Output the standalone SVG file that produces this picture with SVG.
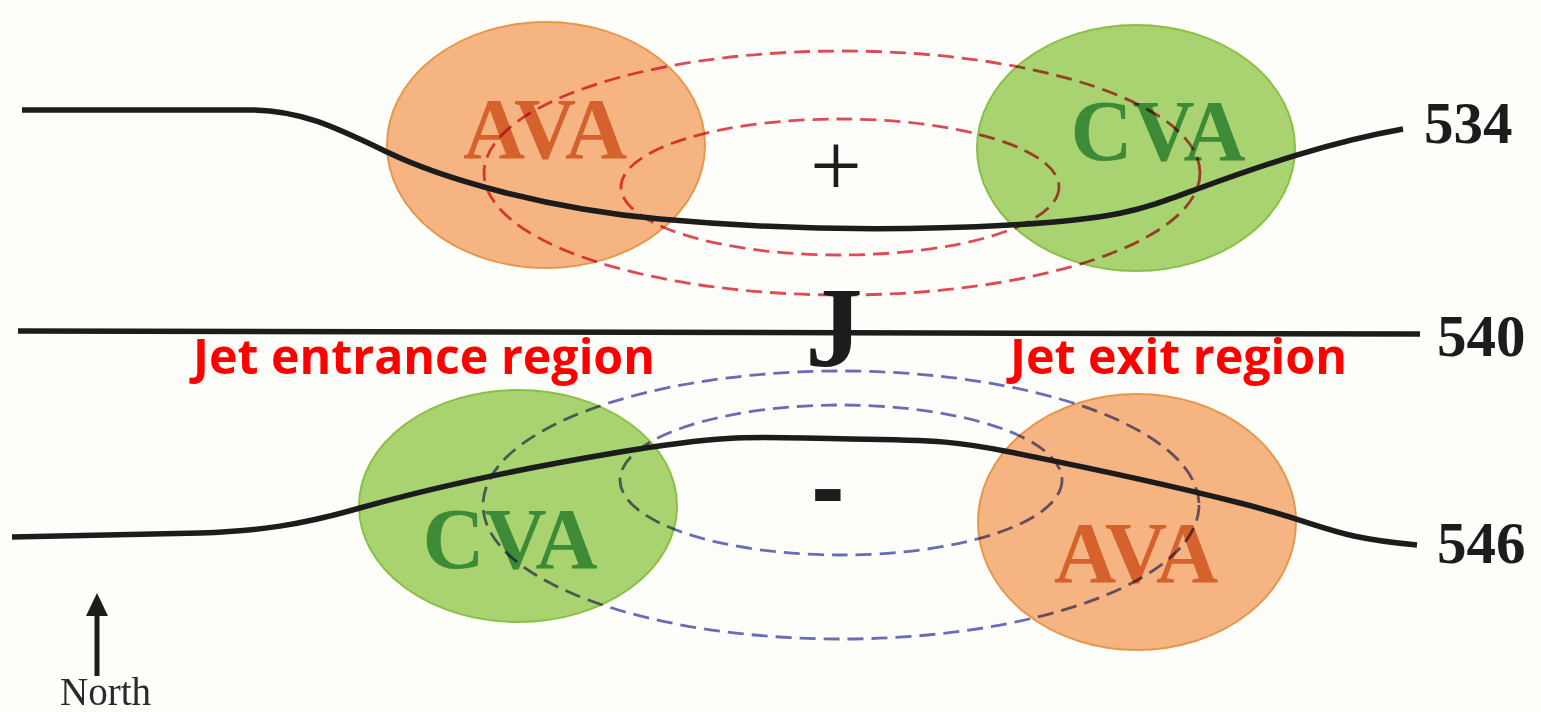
<svg xmlns="http://www.w3.org/2000/svg" width="1541" height="712" viewBox="0 0 1541 712">
  <defs>
    <style>
      .ava { fill: #F5B482; stroke: #E5984C; stroke-width: 2; }
      .cva { fill: #A9D270; stroke: #8BBE44; stroke-width: 2; }
      .avaT { fill: #D5612C; font-family: "Liberation Serif", serif; font-weight: bold; font-size: 86px; text-anchor: middle; }
      .cvaT { fill: #3E8B37; font-family: "Liberation Serif", serif; font-weight: bold; font-size: 86px; text-anchor: middle; }
      .contour { fill: none; stroke: #1C1C1C; stroke-width: 5.5; stroke-linecap: butt; }
      .dashR { fill: none; stroke: #DF4C57; stroke-width: 2.8; stroke-dasharray: 16 8; mix-blend-mode: multiply; }
      .dashB { fill: none; stroke: #6A6DBA; stroke-width: 2.8; stroke-dasharray: 16 8; mix-blend-mode: multiply; }
      .num { fill: #1C1C1C; font-family: "Liberation Serif", serif; font-weight: bold; font-size: 59px; }
      .region { fill: #FF0000; font-family: "Open Sans", "Liberation Sans", sans-serif; font-weight: bold; font-size: 49px; }
    </style>
  </defs>
  <rect x="0" y="0" width="1541" height="712" fill="#FDFDFA"/>

  <g id="ava-top">
    <ellipse class="ava" cx="546" cy="145" rx="159" ry="123"/>
    <text class="avaT" x="545" y="158">AVA</text>
  </g>
  <g id="cva-top">
    <ellipse class="cva" cx="1136" cy="148" rx="159" ry="123"/>
    <text class="cvaT" x="1158" y="160">CVA</text>
  </g>
  <g id="cva-bottom">
    <ellipse class="cva" cx="518" cy="506" rx="159" ry="116"/>
    <text class="cvaT" x="510" y="568">CVA</text>
  </g>
  <g id="ava-bottom">
    <ellipse class="ava" cx="1137" cy="522" rx="159" ry="128"/>
    <text class="avaT" x="1136" y="582">AVA</text>
  </g>

  <g id="divergence-top">
    <ellipse class="dashR" cx="842" cy="173" rx="358" ry="122"/>
    <ellipse class="dashR" cx="840" cy="187" rx="219" ry="68"/>
    <text x="836" y="196" fill="#1C1C1C" font-family="Liberation Serif, serif" font-size="92" text-anchor="middle">+</text>
  </g>
  <g id="convergence-bottom">
    <ellipse class="dashB" cx="841" cy="505" rx="358" ry="134"/>
    <ellipse class="dashB" cx="841" cy="480" rx="221" ry="75"/>
    <text x="828" y="521" fill="#1C1C1C" font-family="Liberation Sans, sans-serif" font-weight="bold" font-size="100" text-anchor="middle">-</text>
  </g>

  <g id="connectors">
    <path id="contour-534" class="contour" d="M 22 110 L 250 110 C 300 110, 335 127, 387 152 S 540 208, 660 219 S 900 231, 1010 225 S 1140 210, 1200 188 S 1330 142, 1403 129"/>
    <path id="contour-540" class="contour" d="M 18 331 L 1420 334"/>
    <path id="contour-546" class="contour" d="M 12 537 L 200 533 C 260 531, 300 525, 360 508 S 500 472, 620 452 S 760 438, 850 439 S 960 442, 1010 452 S 1150 480, 1240 503 S 1330 537, 1417 545"/>
  </g>

  <g id="labels">
    <text class="num" x="1424" y="143">534</text>
    <text class="num" x="1437" y="356">540</text>
    <text class="num" x="1437" y="563">546</text>
    <text x="834" y="366" fill="#1C1C1C" font-family="Liberation Serif, serif" font-weight="bold" font-size="115" text-anchor="middle">J</text>
    <text class="region" x="193" y="374" textLength="462" lengthAdjust="spacingAndGlyphs">Jet entrance region</text>
    <text class="region" x="1010" y="374" textLength="337" lengthAdjust="spacingAndGlyphs">Jet exit region</text>
  </g>

  <g id="north">
    <line x1="97" y1="676" x2="97" y2="612" stroke="#1C1C1C" stroke-width="5"/>
    <polygon points="86,616 108,616 97,593" fill="#1C1C1C"/>
    <text x="60" y="705" fill="#2A2A2A" font-family="Liberation Serif, serif" font-size="39">North</text>
  </g>
</svg>
